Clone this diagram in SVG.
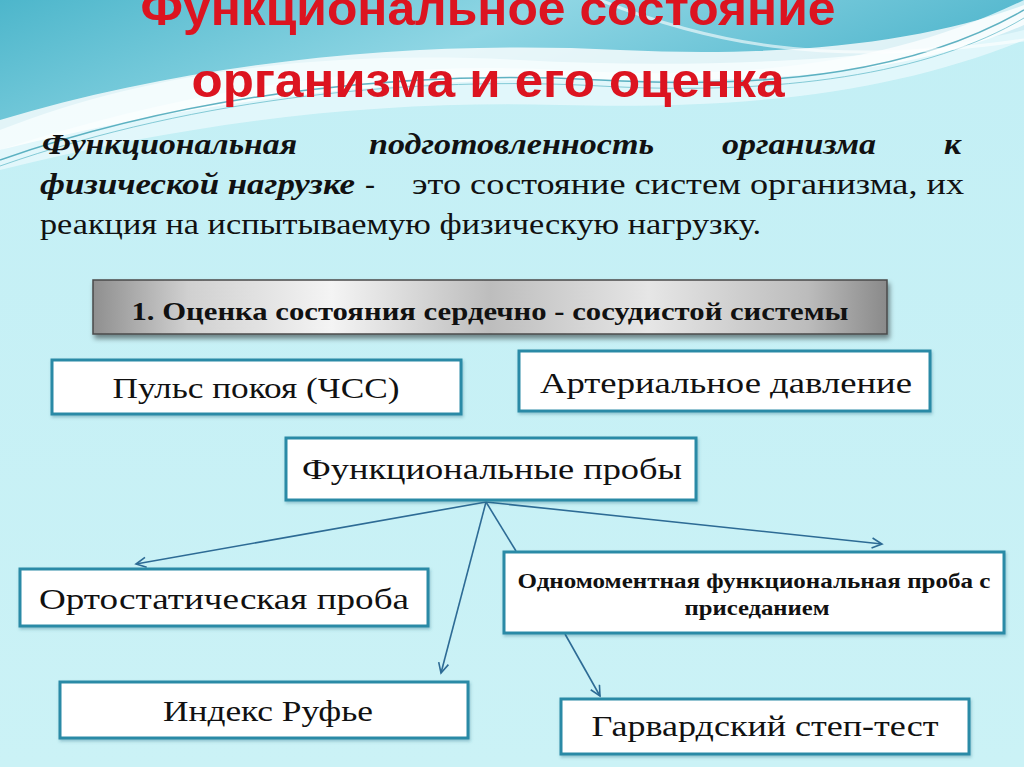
<svg xmlns="http://www.w3.org/2000/svg" width="1024" height="767" viewBox="0 0 1024 767">
<defs>
<linearGradient id="bg" x1="0" y1="0" x2="0" y2="1">
<stop offset="0" stop-color="#c3eff5"/><stop offset="1" stop-color="#cbf2f6"/>
</linearGradient>
<linearGradient id="topband" x1="0" y1="0" x2="1" y2="0.3">
<stop offset="0" stop-color="#4db6cb"/><stop offset="0.5" stop-color="#8fd6e4"/><stop offset="1" stop-color="#4fb5cc"/>
</linearGradient>
<linearGradient id="gray" x1="0" y1="0" x2="1" y2="0">
<stop offset="0" stop-color="#8f8f8f"/><stop offset="0.12" stop-color="#d0d0d0"/><stop offset="0.3" stop-color="#f4f4f4"/><stop offset="0.5" stop-color="#bdbdbd"/><stop offset="0.7" stop-color="#e6e6e6"/><stop offset="0.9" stop-color="#bcbcbc"/><stop offset="1" stop-color="#8a8a8a"/>
</linearGradient>
<filter id="sh" x="-5%" y="-20%" width="110%" height="150%">
<feDropShadow dx="2" dy="4" stdDeviation="2.5" flood-color="#000" flood-opacity="0.45"/>
</filter>
<filter id="sh2" x="-5%" y="-10%" width="110%" height="130%">
<feDropShadow dx="1" dy="2" stdDeviation="1.5" flood-color="#2a6f86" flood-opacity="0.35"/>
</filter>
<marker id="arr" markerWidth="14" markerHeight="14" refX="11" refY="6" orient="auto" markerUnits="userSpaceOnUse">
<path d="M1,1 L11,6 L1,11" fill="none" stroke="#2d6b95" stroke-width="1.6"/>
</marker>
</defs>
<style>
.box{fill:#ffffff;stroke:#2a8aa6;stroke-width:3}
.lbl{font-family:"Liberation Serif","DejaVu Serif",serif;font-size:30px;fill:#111}
.blbl{font-family:"Liberation Serif","DejaVu Serif",serif;font-size:21px;font-weight:bold;fill:#111}
.title{font-family:"Liberation Sans","Arial",sans-serif;font-size:48px;font-weight:bold;fill:#dc1420}
.para{font-family:"Liberation Serif","Times New Roman",serif;font-size:30px;fill:#111}
.pi{font-style:italic;font-weight:bold}
.conn{stroke:#2d6b95;stroke-width:1.6;fill:none}
</style>
<rect x="0" y="0" width="1024" height="767" fill="url(#bg)"/>
<g id="background-waves">
<path d="M0,0 H1024 V30 C900,60 700,70 520,60 C330,50 150,70 0,130 Z" fill="url(#topband)"/>
<path d="M0,150 C180,90 380,60 560,70 C760,82 900,60 1024,0 V40 C900,90 760,110 560,105 C380,100 200,120 0,170 Z" fill="#e6f8fb" opacity="0.85"/>
<path d="M0,120 C200,60 420,40 620,50 C800,58 930,40 1024,5 V25 C920,70 800,82 620,80 C420,76 220,95 0,150 Z" fill="#ffffff" opacity="0.8"/>
<path d="M0,160 C200,90 420,70 600,80 C780,90 920,70 1024,10" fill="none" stroke="#3a9fb3" stroke-width="1.5" opacity="0.8"/>
<path d="M0,166 C200,96 420,76 600,86 C780,96 930,74 1024,18" fill="none" stroke="#5bb6c6" stroke-width="1" opacity="0.7"/>
<path d="M600,0 C700,40 820,70 1024,40" fill="none" stroke="#ffffff" stroke-width="3" opacity="0.6"/>
</g>
<g id="title">
<text class="title" x="488" y="25" text-anchor="middle" textLength="695" lengthAdjust="spacingAndGlyphs">Функциональное состояние</text>
<text class="title" x="488" y="97" text-anchor="middle" textLength="593" lengthAdjust="spacingAndGlyphs">организма и его оценка</text>
</g>
<g id="definition">
<text class="para pi" x="42" y="154" textLength="255" lengthAdjust="spacingAndGlyphs">Функциональная</text>
<text class="para pi" x="369" y="154" textLength="285" lengthAdjust="spacingAndGlyphs">подготовленность</text>
<text class="para pi" x="722" y="154" textLength="154" lengthAdjust="spacingAndGlyphs">организма</text>
<text class="para pi" x="944" y="154" textLength="17" lengthAdjust="spacingAndGlyphs">к</text>
<text class="para pi" x="40" y="194" textLength="315" lengthAdjust="spacingAndGlyphs">физической нагрузке</text>
<text class="para" x="365" y="194">-</text>
<text class="para" x="412" y="194" textLength="552" lengthAdjust="spacingAndGlyphs">это состояние систем организма, их</text>
<text class="para" x="40" y="234" textLength="721" lengthAdjust="spacingAndGlyphs">реакция на испытываемую физическую нагрузку.</text>
</g>
<g id="connectors">
<line class="conn" x1="486" y1="502" x2="136" y2="564" marker-end="url(#arr)"/>
<line class="conn" x1="486" y1="502" x2="441" y2="673" marker-end="url(#arr)"/>
<line class="conn" x1="486" y1="502" x2="516" y2="551"/>
<line class="conn" x1="486" y1="502" x2="882" y2="544" marker-end="url(#arr)"/>
<line class="conn" x1="565" y1="634" x2="600" y2="696" marker-end="url(#arr)"/>
</g>
<g id="header">
<rect x="93" y="280" width="794" height="54" fill="url(#gray)" stroke="#4a4a4a" stroke-width="1.5" filter="url(#sh)"/>
<text x="490" y="320" text-anchor="middle" textLength="717" lengthAdjust="spacingAndGlyphs" style="font-family:'Liberation Serif','DejaVu Serif',serif;font-size:25px;font-weight:bold;fill:#111">1. Оценка состояния сердечно - сосудистой системы</text>
</g>
<g id="pulse">
<rect class="box" x="52" y="360" width="409" height="54" filter="url(#sh2)"/>
<text class="lbl" x="256" y="398" text-anchor="middle" textLength="287" lengthAdjust="spacingAndGlyphs">Пульс покоя (ЧСС)</text>
</g>
<g id="pressure">
<rect class="box" x="519" y="351" width="411" height="60" filter="url(#sh2)"/>
<text class="lbl" x="726" y="393" text-anchor="middle" textLength="372" lengthAdjust="spacingAndGlyphs">Артериальное давление</text>
</g>
<g id="tests">
<rect class="box" x="286" y="438" width="410" height="62" filter="url(#sh2)"/>
<text class="lbl" x="492" y="479" text-anchor="middle" textLength="380" lengthAdjust="spacingAndGlyphs">Функциональные пробы</text>
</g>
<g id="ortho">
<rect class="box" x="20" y="569" width="408" height="57" filter="url(#sh2)"/>
<text class="lbl" x="224" y="609" text-anchor="middle" textLength="370" lengthAdjust="spacingAndGlyphs">Ортостатическая проба</text>
</g>
<g id="squat">
<rect class="box" x="504" y="552" width="500" height="81" filter="url(#sh2)"/>
<text class="blbl" x="754" y="588" text-anchor="middle" textLength="473" lengthAdjust="spacingAndGlyphs">Одномоментная функциональная проба с</text>
<text class="blbl" x="757" y="615" text-anchor="middle" textLength="145" lengthAdjust="spacingAndGlyphs">приседанием</text>
</g>
<g id="ruffier">
<rect class="box" x="60" y="682" width="408" height="56" filter="url(#sh2)"/>
<text class="lbl" x="268" y="721" text-anchor="middle" textLength="210" lengthAdjust="spacingAndGlyphs">Индекс Руфье</text>
</g>
<g id="harvard">
<rect class="box" x="561" y="699" width="408" height="55" filter="url(#sh2)"/>
<text class="lbl" x="765" y="736" text-anchor="middle" textLength="347" lengthAdjust="spacingAndGlyphs">Гарвардский степ-тест</text>
</g>
</svg>
